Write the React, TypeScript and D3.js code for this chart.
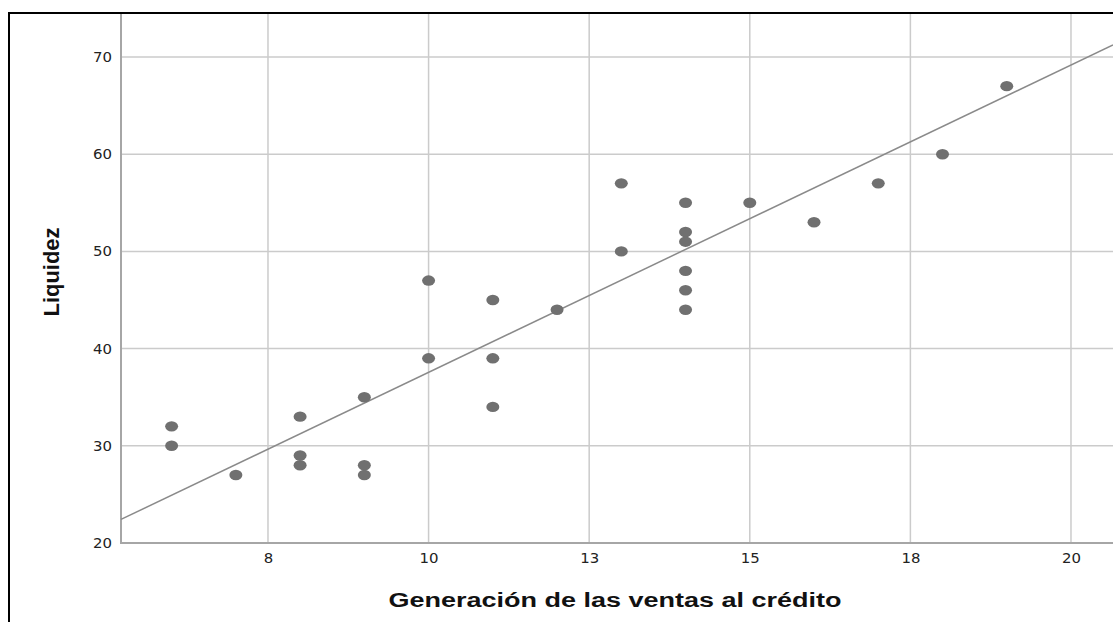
import React, { useRef, useEffect } from "react";
import * as d3 from "d3";

// Values (x = credit sales generation, y = liquidity)
const ventasCredito = [6, 6, 7, 8, 8, 8, 9, 9, 9, 10, 10, 11, 11, 11, 12, 13, 13, 14, 14, 14, 14, 14, 14, 15, 16, 17, 18, 19];
const liquidez = [32, 30, 27, 33, 29, 28, 35, 28, 27, 47, 39, 45, 39, 34, 44, 57, 50, 55, 52, 51, 48, 46, 44, 55, 53, 57, 60, 67];

// fit line as drawn in the original (intercept, slope)
const fitLine = [5.95, 3.161];

const xTickValues = [7.5, 10, 12.5, 15, 17.5, 20];
const xTickLabels = ["8", "10", "13", "15", "18", "20"];
const yTickValues = [20, 30, 40, 50, 60, 70];

const xTitle = "Generación de las ventas al crédito";
const yTitle = "Liquidez";

const W = 1113;
const H = 622;

const App = () => {
  const svgRef = useRef<SVGSVGElement>(null);

  useEffect(() => {
    const svg = d3.select(svgRef.current);
    svg.selectAll("*").remove();

    const left = 121;
    const right = W;
    const top = 13;
    const bottom = 543;

    const x = d3.scaleLinear().domain([5.212, 20.654]).range([left, right]);
    const y = d3.scaleLinear().domain([20, 70]).range([bottom, 57]);

    svg.append("rect").attr("width", W).attr("height", H).attr("fill", "#fff");

    // outer frame (only left and top visible)
    svg
      .append("path")
      .attr("d", `M9,${H} L9,13 L${W},13`)
      .attr("fill", "none")
      .attr("stroke", "#000")
      .attr("stroke-width", 2);

    // gridlines
    const grid = svg.append("g");
    grid
      .selectAll(".gx")
      .data(xTickValues)
      .enter()
      .append("line")
      .attr("x1", (d) => x(d))
      .attr("x2", (d) => x(d))
      .attr("y1", top + 1)
      .attr("y2", bottom)
      .attr("stroke", "#cbcbcb")
      .attr("stroke-width", 1.5);
    grid
      .selectAll(".gy")
      .data(yTickValues.filter((d) => d > 20))
      .enter()
      .append("line")
      .attr("x1", left)
      .attr("x2", right)
      .attr("y1", (d) => y(d))
      .attr("y2", (d) => y(d))
      .attr("stroke", "#cbcbcb")
      .attr("stroke-width", 1.5);

    // axes
    const yAxis = svg
      .append("g")
      .attr("transform", `translate(${left},0)`)
      .call(d3.axisLeft(y).tickValues(yTickValues).tickSize(0).tickPadding(9));
    const xAxis = svg
      .append("g")
      .attr("transform", `translate(0,${bottom})`)
      .call(
        d3
          .axisBottom(x)
          .tickValues(xTickValues)
          .tickSize(0)
          .tickPadding(10)
          .tickFormat((d, i) => xTickLabels[i])
      );
    [yAxis, xAxis].forEach((g) => {
      g.select(".domain").remove();
      g.selectAll("text")
        .attr("font-family", "DejaVu Sans, Verdana, sans-serif")
        .attr("font-size", 14)
        .attr("fill", "#222")
        .attr("textLength", function () {
          return (this as SVGTextElement).textContent!.length * 9.5;
        })
        .attr("lengthAdjust", "spacingAndGlyphs");
    });

    svg
      .append("line")
      .attr("x1", left)
      .attr("x2", left)
      .attr("y1", top + 1)
      .attr("y2", bottom + 1)
      .attr("stroke", "#a6a6a6")
      .attr("stroke-width", 2);
    svg
      .append("line")
      .attr("x1", left)
      .attr("x2", right)
      .attr("y1", bottom)
      .attr("y2", bottom)
      .attr("stroke", "#a6a6a6")
      .attr("stroke-width", 2);

    // fit line across the whole plot width
    const [x0, x1] = x.domain();
    svg
      .append("line")
      .attr("x1", x(x0))
      .attr("y1", y(fitLine[0] + fitLine[1] * x0))
      .attr("x2", x(x1))
      .attr("y2", y(fitLine[0] + fitLine[1] * x1))
      .attr("stroke", "#8a8a8a")
      .attr("stroke-width", 1.5);

    // points
    svg
      .append("g")
      .selectAll("ellipse")
      .data(ventasCredito)
      .enter()
      .append("ellipse")
      .attr("cx", (d) => x(d))
      .attr("cy", (d, i) => y(liquidez[i]))
      .attr("rx", 6.5)
      .attr("ry", 5.2)
      .attr("fill", "#707070");

    // axis titles
    svg
      .append("text")
      .attr("x", 615)
      .attr("y", 607)
      .attr("text-anchor", "middle")
      .attr("font-family", "Liberation Sans, Arial, sans-serif")
      .attr("font-weight", "bold")
      .attr("font-size", 20)
      .attr("fill", "#111")
      .attr("textLength", 453)
      .attr("lengthAdjust", "spacingAndGlyphs")
      .text(xTitle);

    svg
      .append("text")
      .attr("transform", "translate(59,272) rotate(-90)")
      .attr("text-anchor", "middle")
      .attr("font-family", "Liberation Sans Narrow, Arial Narrow, Liberation Sans, sans-serif")
      .attr("font-weight", "bold")
      .attr("font-size", 22)
      .attr("fill", "#111")
      .attr("textLength", 89)
      .attr("lengthAdjust", "spacingAndGlyphs")
      .text(yTitle);
  }, []);

  return (
    <svg
      ref={svgRef}
      width={W}
      height={H}
      style={{ position: "absolute", left: 0, top: 0, display: "block" }}
    />
  );
};

export default App;
